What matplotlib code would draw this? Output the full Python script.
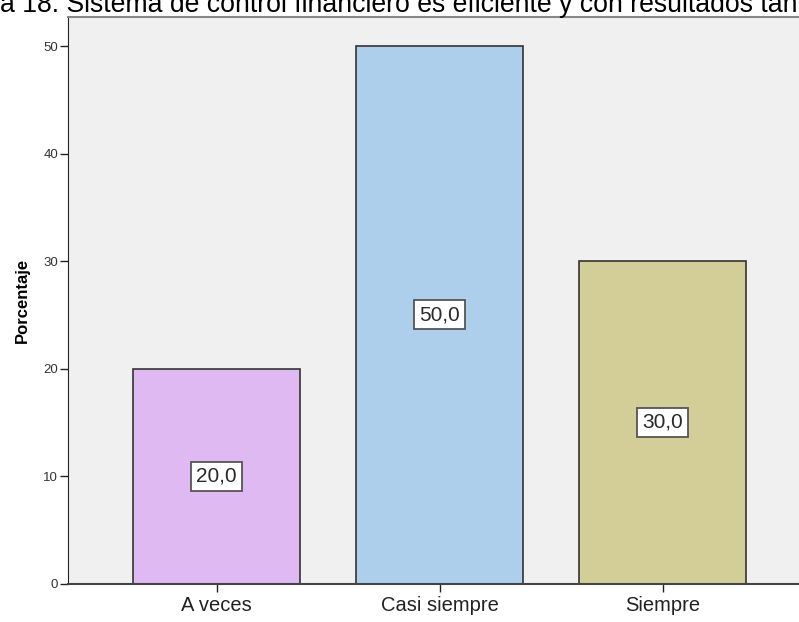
import numpy as np
import matplotlib.pyplot as plt

plt.rcParams['font.family'] = ['Liberation Sans', 'DejaVu Sans']

categorias = ['A veces', 'Casi siempre', 'Siempre']
porcentaje = [20.0, 50.0, 30.0]
colores = ['#dfbaf2', '#aecfec', '#d3ce97']
titulo = 'a 18. Sistema de control financiero es eficiente y con resultados tan'

fig = plt.figure(figsize=(7.99, 6.22), dpi=100)
ax = fig.add_axes([68/799, 38.5/622, 1 - 68/799, 566.5/622])
ax.set_facecolor('#f0f0f0')

x = np.arange(len(categorias))
ax.bar(x, porcentaje, width=0.75, color=colores, edgecolor='#333333', linewidth=1.2, zorder=2)

for xi, v in zip(x, porcentaje):
    ax.text(xi, v / 2, ('%.1f' % v).replace('.', ','), ha='center', va='center',
            fontsize=15, color='#2a2a2a', zorder=3,
            bbox=dict(boxstyle='square,pad=0.24', fc='white', ec='#555555', lw=1.3))

ax.set_xlim(-0.666, 2.612)
ax.set_ylim(0, 52.7)
ax.set_xticks(x)
ax.set_xticklabels(categorias, fontsize=14.5, color='#222222')
ax.set_yticks([0, 10, 20, 30, 40, 50])
ax.tick_params(axis='y', labelsize=9.5, labelcolor='#333333', length=6, width=1, color='#222222', pad=1)
ax.tick_params(axis='x', length=6, width=1, color='#222222', pad=3)

ax.set_ylabel('Porcentaje', fontsize=12, fontweight='bold', labelpad=10)

ax.spines['right'].set_visible(False)
ax.spines['top'].set_color('#888888')
ax.spines['top'].set_linewidth(1.5)
ax.spines['left'].set_color('#222222')
ax.spines['bottom'].set_color('#444444')
ax.spines['bottom'].set_linewidth(1.5)

# title is cropped at the top and right edges in the source image
fig.text(0, 1 - 12/622, titulo, fontsize=19.2, color='black', ha='left', va='baseline')

fig.savefig('out.png', dpi=100)
